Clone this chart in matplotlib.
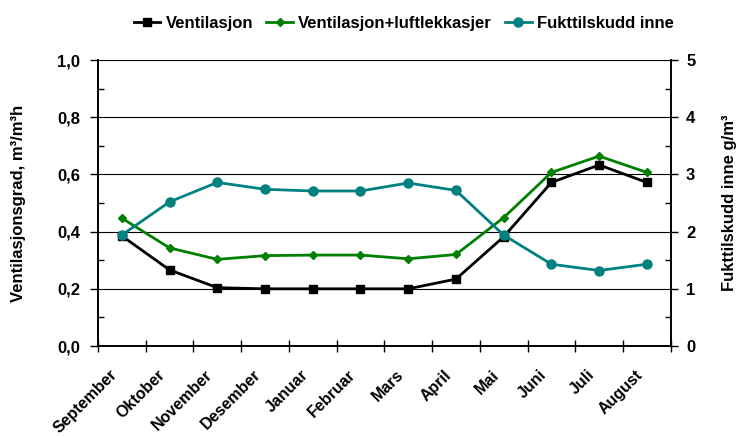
import matplotlib
matplotlib.use('Agg')
import matplotlib.pyplot as plt
import numpy as np
from matplotlib.ticker import MultipleLocator, FuncFormatter
from matplotlib.transforms import ScaledTranslation

plt.rcParams['font.family'] = ['Liberation Sans', 'DejaVu Sans']
plt.rcParams['font.weight'] = 'bold'

# data
months = ['September', 'Oktober', 'November', 'Desember', 'Januar', 'Februar',
          'Mars', 'April', 'Mai', 'Juni', 'Juli', 'August']
ventilasjon = [0.385, 0.266, 0.204, 0.200, 0.200, 0.200, 0.200, 0.234, 0.382, 0.572, 0.633, 0.572]
vent_lekk = [0.447, 0.343, 0.303, 0.316, 0.318, 0.318, 0.305, 0.320, 0.449, 0.607, 0.664, 0.607]
fukt = [1.94, 2.52, 2.86, 2.74, 2.71, 2.71, 2.85, 2.72, 1.94, 1.43, 1.32, 1.43]

x = np.arange(len(months))

fig = plt.figure(figsize=(7.42, 4.38), dpi=100)
ax = fig.add_axes([0.132, 0.21, 0.772, 0.653])
ax2 = ax.twinx()

l1, = ax.plot(x, ventilasjon, color='black', marker='s', markersize=6, lw=2, label='Ventilasjon')
l2, = ax.plot(x, vent_lekk, color='#008000', marker='D', markersize=4.5, lw=2, label='Ventilasjon+luftlekkasjer')
l3, = ax2.plot(x, fukt, color='#008080', marker='o', markersize=6.5, lw=2, label='Fukttilskudd inne')

ax.set_xlim(-0.5, 11.5)
ax.set_ylim(0, 1.0)
ax2.set_ylim(0, 5)

# gridlines at the major left ticks
for v in [0.2, 0.4, 0.6, 0.8, 1.0]:
    ax.axhline(v, color='black', lw=0.8, zorder=0)

ax.yaxis.set_major_locator(MultipleLocator(0.2))
ax.yaxis.set_minor_locator(MultipleLocator(0.1))
ax.yaxis.set_major_formatter(FuncFormatter(lambda v, p: f'{v:.1f}'.replace('.', ',')))
ax2.yaxis.set_major_locator(MultipleLocator(1))
ax2.yaxis.set_minor_locator(MultipleLocator(0.5))

ax.set_xticks(np.arange(-0.5, 12, 1), minor=False)
ax.set_xticklabels([])
ax.set_xticks(x, minor=True)
ax.set_xticklabels(months, minor=True, rotation=45, ha='right', va='center',
                   rotation_mode='anchor', fontweight='bold', fontsize=11.5)
ax.tick_params(axis='x', which='minor', length=0, pad=19)
ax.tick_params(axis='x', which='major', direction='inout', length=8, width=1)
for lab in ax.get_xticklabels(minor=True):
    lab.set_transform(lab.get_transform() + ScaledTranslation(-7 / 100, 0, fig.dpi_scale_trans))

ax.tick_params(axis='y', which='major', direction='out', length=6, width=1, pad=7, labelsize=12)
ax.tick_params(axis='y', which='minor', direction='in', length=4, width=1)
ax2.tick_params(axis='y', which='major', direction='out', length=5, width=1, pad=6, labelsize=12)
ax2.tick_params(axis='y', which='minor', direction='in', length=4, width=1)

for a in (ax, ax2):
    a.spines['top'].set_visible(False)
    for s in ('left', 'right', 'bottom'):
        a.spines[s].set_linewidth(1.2)

ax.set_ylabel('Ventilasjonsgrad, m³/m³h', fontsize=12, fontweight='bold', labelpad=22)
ax2.set_ylabel('Fukttilskudd inne g/m³', fontsize=12, fontweight='bold', labelpad=19)

fig.legend(handles=[l1, l2, l3], loc='center', bbox_to_anchor=(0.544, 0.947), ncol=3,
           frameon=False, handlelength=1.6, handletextpad=0.3, columnspacing=0.8,
           prop={'weight': 'bold', 'size': 12})

fig.savefig('out.png', dpi=100)
